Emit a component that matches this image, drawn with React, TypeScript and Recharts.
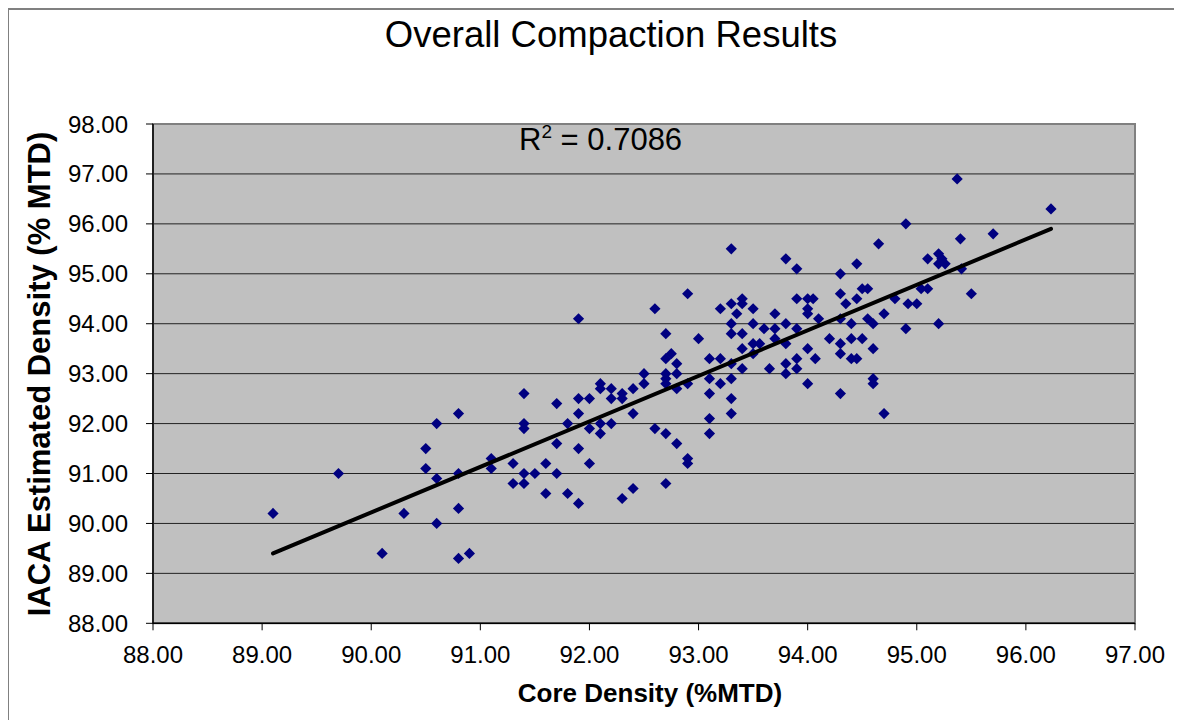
import React from 'react';
import { ScatterChart, Scatter, XAxis, YAxis, CartesianGrid, ReferenceArea } from 'recharts';

const coreDensity = [
  89.1, 89.7, 90.1, 90.3, 90.5, 90.6, 90.8, 90.5, 90.6, 90.8,
  90.8, 90.6, 90.8, 90.9, 91.1, 91.1, 91.3, 91.4, 91.5, 91.6,
  91.7, 91.3, 91.4, 91.6, 91.8, 91.9, 91.4, 91.4, 91.4, 91.7,
  91.7, 91.8, 91.9, 91.9, 91.9, 91.9, 92.0, 92.0, 92.0, 92.1,
  92.1, 92.1, 92.1, 92.2, 92.2, 92.2, 92.3, 92.3, 92.3, 92.4,
  92.4, 92.4, 92.5, 92.5, 92.6, 92.6, 92.7, 92.75, 92.7, 92.7,
  92.7, 92.7, 92.7, 92.7, 92.8, 92.8, 92.8, 92.8, 92.9, 92.9,
  92.9, 92.9, 93.0, 93.1, 93.1, 93.1, 93.1, 93.1, 93.2, 93.2,
  93.2, 93.3, 93.3, 93.3, 93.3, 93.3, 93.3, 93.3, 93.3, 93.35,
  93.4, 93.4, 93.4, 93.4, 93.4, 93.5, 93.5, 93.5, 93.5, 93.56,
  93.6, 93.65, 93.7, 93.7, 93.7, 93.8, 93.8, 93.8, 93.8, 93.8,
  93.9, 93.9, 93.9, 93.9, 93.9, 94.0, 94.05, 94.0, 94.0, 94.0,
  94.0, 94.07, 94.1, 94.2, 94.3, 94.3, 94.3, 94.3, 94.3, 94.3,
  94.35, 94.4, 94.4, 94.4, 94.45, 94.45, 94.45, 94.5, 94.55, 94.5,
  94.55, 94.6, 94.6, 94.6, 94.6, 94.65, 94.7, 94.7, 94.8, 94.9,
  94.9, 94.92, 95.0, 95.04, 95.1, 95.1, 95.2, 95.23, 95.2, 95.26,
  95.2, 95.37, 95.4, 95.41, 95.5, 95.7, 96.23,
];

const iacaDensity = [
  90.2, 91.0, 89.4, 90.2, 91.5, 92.0, 92.2, 91.1, 90.9, 91.0,
  90.3, 90.0, 89.3, 89.4, 91.3, 91.1, 91.2, 91.0, 91.0, 91.2,
  91.0, 90.8, 90.8, 90.6, 90.6, 90.4, 92.6, 92.0, 91.9, 92.4,
  91.6, 92.0, 92.5, 92.2, 91.5, 94.1, 92.5, 91.9, 91.2, 92.8,
  92.7, 92.0, 91.8, 92.7, 92.5, 92.0, 92.6, 92.5, 90.5, 92.7,
  92.2, 90.7, 93.0, 92.8, 94.3, 91.9, 93.8, 93.4, 93.3, 93.0,
  92.9, 92.8, 91.8, 90.8, 93.2, 93.0, 92.7, 91.6, 94.6, 92.8,
  91.3, 91.2, 93.7, 93.3, 92.9, 92.6, 92.1, 91.8, 94.3, 93.3,
  92.8, 95.5, 94.4, 94.0, 93.8, 93.2, 92.9, 92.5, 92.2, 94.2,
  94.5, 94.4, 93.8, 93.5, 93.1, 94.3, 94.0, 93.6, 93.4, 93.6,
  93.9, 93.1, 94.2, 93.9, 93.7, 95.3, 94.0, 93.6, 93.2, 93.0,
  95.1, 94.5, 93.9, 93.3, 93.1, 94.5, 94.5, 94.3, 94.2, 93.5,
  92.8, 93.3, 94.1, 93.7, 95.0, 94.6, 94.1, 93.6, 93.4, 92.6,
  94.4, 94.0, 93.7, 93.3, 95.2, 94.5, 93.3, 94.7, 94.7, 93.7,
  94.1, 94.0, 93.5, 92.9, 92.8, 95.6, 94.2, 92.2, 94.5, 96.0,
  93.9, 94.4, 94.4, 94.7, 94.7, 95.3, 95.4, 95.3, 95.2, 95.2,
  94.0, 96.9, 95.7, 95.1, 94.6, 95.8, 96.3,
];

const trendX = [89.1, 96.23];
const trendY = [89.4, 95.9];

const xTicks = [88, 89, 90, 91, 92, 93, 94, 95, 96, 97];
const yTicks = [88, 89, 90, 91, 92, 93, 94, 95, 96, 97, 98];

const rSquared = '0.7086';

const points = coreDensity.map((x, i) => ({ x, y: iacaDensity[i] }));
const trend = trendX.map((x, i) => ({ x, y: trendY[i] }));

const Diamond = (props: any) => {
  const { cx, cy } = props;
  if (cx == null || cy == null) return <g />;
  const r = 5.6;
  return (
    <polygon
      points={`${cx},${cy - r} ${cx + r},${cy} ${cx},${cy + r} ${cx - r},${cy}`}
      fill="#000080"
    />
  );
};

const W = 1166;
const H = 712;
const FONT = '"Liberation Sans", Arial, Helvetica, sans-serif';

export default function App() {
  return (
    <div style={{ position: 'relative', width: W, height: H, fontFamily: FONT }}>
      <ScatterChart
        width={W}
        height={H}
        margin={{ top: 116, right: 39, bottom: 36.7, left: 0 }}
        style={{ fontFamily: FONT, outline: 'none' }}
        accessibilityLayer={false}
      >
        <CartesianGrid
          vertical={false}
          horizontal={true}
          fill="#C0C0C0"
          fillOpacity={1}
          stroke="#222"
          strokeWidth={1}
        />
        <ReferenceArea
          x1={88}
          x2={97}
          y1={88}
          y2={98}
          fill="none"
          stroke="#808080"
          strokeWidth={2}
          ifOverflow="visible"
        />
        <XAxis
          type="number"
          dataKey="x"
          domain={[88, 97]}
          ticks={xTicks}
          tickFormatter={(v: number) => v.toFixed(2)}
          height={60}
          tickSize={7}
          tickMargin={16}
          allowDataOverflow
          axisLine={{ stroke: '#000', strokeWidth: 1.5 }}
          tickLine={{ stroke: '#000' }}
          tick={{ fontSize: 24, fill: '#000', fontFamily: FONT }}
          interval={0}
        />
        <YAxis
          type="number"
          dataKey="y"
          domain={[88, 98]}
          ticks={yTicks}
          tickFormatter={(v: number) => v.toFixed(2)}
          width={145}
          tickSize={7}
          tickMargin={18}
          allowDataOverflow
          axisLine={{ stroke: '#000', strokeWidth: 1.5 }}
          tickLine={{ stroke: '#000' }}
          tick={{ fontSize: 24, fill: '#000', fontFamily: FONT }}
          interval={0}
        />
        <Scatter data={points} shape={Diamond} isAnimationActive={false} />
        <Scatter
          data={trend}
          line={{ stroke: '#000', strokeWidth: 4, strokeLinecap: 'round' }}
          shape={() => <g />}
          isAnimationActive={false}
        />
      </ScatterChart>
      <svg
        width={W}
        height={H}
        style={{ position: 'absolute', left: 0, top: 0, pointerEvents: 'none', fontFamily: FONT, overflow: 'visible' }}
      >
        <line x1={-1} y1={1} x2={1174} y2={1} stroke="#808080" strokeWidth={2} />
        <line x1={0} y1={0} x2={0} y2={720} stroke="#808080" strokeWidth={2} />
        <text x={603} y={39} textAnchor="middle" fontSize={36.5} fill="#000">
          Overall Compaction Results
        </text>
        <text x={511} y={142} fontSize={31} fill="#000">
          R<tspan fontSize={19} dy={-12}>2</tspan>
          <tspan dy={12}>{` = ${rSquared}`}</tspan>
        </text>
        <text x={642} y={694} textAnchor="middle" fontSize={26} fontWeight="bold" fill="#000">
          Core Density (%MTD)
        </text>
        <text
          x={0}
          y={0}
          transform="translate(42,366) rotate(-90)"
          textAnchor="middle"
          fontSize={31}
          fontWeight="bold"
          fill="#000"
        >
          IACA Estimated Density (% MTD)
        </text>
      </svg>
    </div>
  );
}
